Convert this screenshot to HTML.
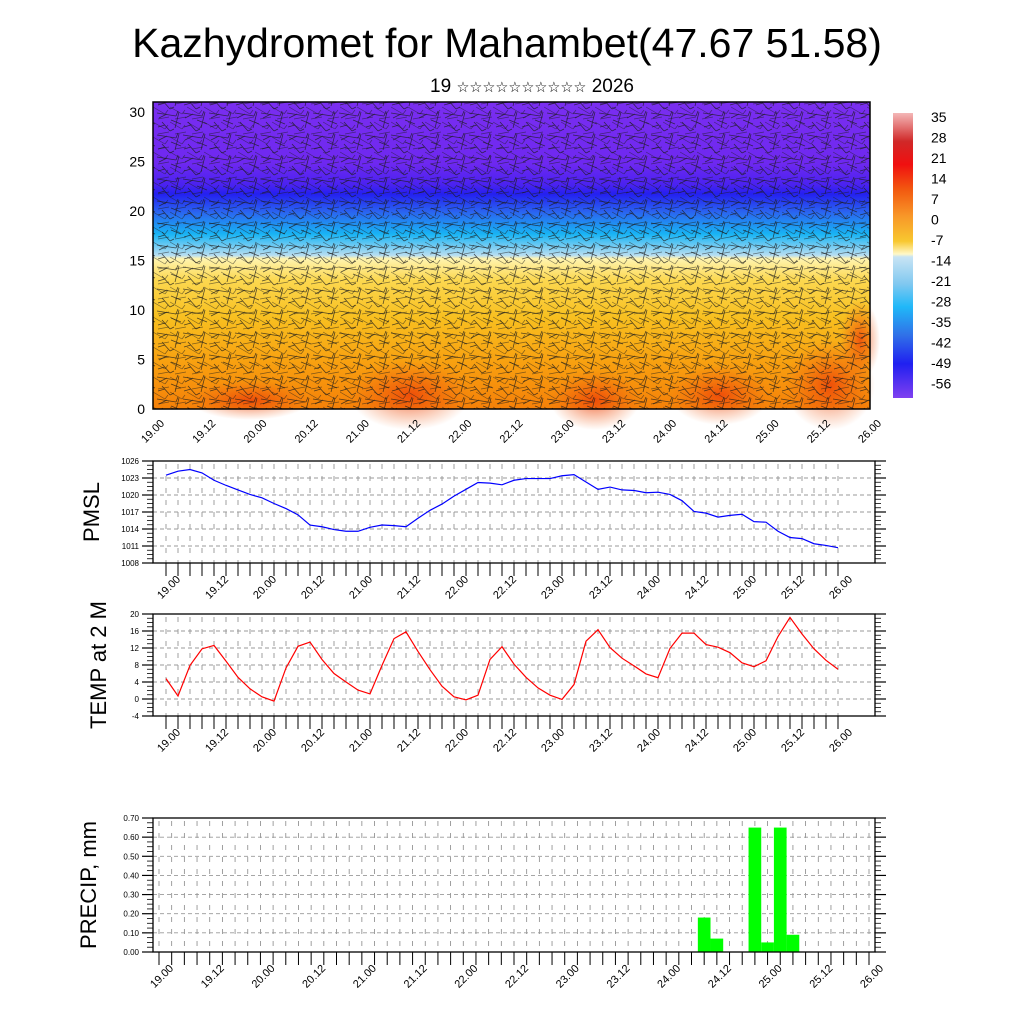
<!DOCTYPE html>
<html><head><meta charset="utf-8"><style>
html,body{margin:0;padding:0;background:#fff;width:1024px;height:1024px;overflow:hidden}
svg{display:block;font-family:"Liberation Sans","DejaVu Sans",sans-serif}
</style></head><body>
<svg id="c" width="1024" height="1024" viewBox="0 0 1024 1024">
<defs>
<linearGradient id="vgrad" x1="0" y1="0" x2="0" y2="1">
<stop offset="0" stop-color="#7a2ef0"/><stop offset="0.2" stop-color="#6e28f0"/>
<stop offset="0.27" stop-color="#4a22f0"/><stop offset="0.3" stop-color="#2420f0"/>
<stop offset="0.36" stop-color="#2a66f0"/><stop offset="0.43" stop-color="#18b4f4"/>
<stop offset="0.5" stop-color="#b8def2"/><stop offset="0.51" stop-color="#fff4b0"/>
<stop offset="0.58" stop-color="#fcd850"/><stop offset="0.7" stop-color="#f8c020"/>
<stop offset="0.85" stop-color="#f8a010"/><stop offset="1" stop-color="#f58008"/>
</linearGradient>
<linearGradient id="cbgrad" x1="0" y1="0" x2="0" y2="1">
<stop offset="0" stop-color="#f4b8b8"/><stop offset="0.1" stop-color="#d02828"/>
<stop offset="0.18" stop-color="#f01010"/><stop offset="0.27" stop-color="#f25a10"/>
<stop offset="0.36" stop-color="#f89628"/><stop offset="0.45" stop-color="#f8c830"/>
<stop offset="0.495" stop-color="#fff8c8"/><stop offset="0.505" stop-color="#c8e4f4"/>
<stop offset="0.6" stop-color="#80c8f0"/><stop offset="0.68" stop-color="#20b8f8"/>
<stop offset="0.78" stop-color="#3070e8"/><stop offset="0.88" stop-color="#2020f0"/>
<stop offset="1" stop-color="#8040f0"/>
</linearGradient>
<radialGradient id="hot"><stop offset="0" stop-color="#ec3a08" stop-opacity="0.75"/><stop offset="1" stop-color="#f06010" stop-opacity="0"/></radialGradient>
<pattern id="barbs" width="26" height="22" patternUnits="userSpaceOnUse">
<g stroke="#1a1a1a" stroke-width="0.8" opacity="0.75">
<line x1="1" y1="3" x2="20" y2="6"/><line x1="20" y1="6" x2="22" y2="1"/>
<line x1="6" y1="12" x2="14" y2="21"/><line x1="14" y1="21" x2="18" y2="19"/>
<line x1="15" y1="10" x2="25" y2="14"/><line x1="2" y1="17" x2="9" y2="15"/>
<line x1="23" y1="2" x2="19" y2="18"/><line x1="3" y1="8" x2="11" y2="4"/>
</g></pattern>
<pattern id="barbs2" width="17" height="15" patternUnits="userSpaceOnUse">
<g stroke="#1a1a1a" stroke-width="0.7" opacity="0.55">
<line x1="0" y1="2" x2="12" y2="9"/><line x1="12" y1="9" x2="15" y2="5"/>
<line x1="5" y1="14" x2="16" y2="12"/>
</g></pattern>
</defs>
</svg>
<script>
// ---- data ----
const pmslVals=[1023.5,1024.2,1024.5,1023.9,1022.6,1021.7,1020.9,1020.1,1019.5,1018.5,1017.6,1016.5,1014.7,1014.4,1013.9,1013.6,1013.6,1014.3,1014.7,1014.6,1014.4,1015.9,1017.3,1018.4,1019.8,1021.0,1022.2,1022.1,1021.8,1022.6,1022.9,1022.9,1022.9,1023.4,1023.6,1022.3,1021.0,1021.4,1020.9,1020.8,1020.4,1020.5,1020.1,1019.0,1017.1,1016.8,1016.1,1016.4,1016.6,1015.3,1015.2,1013.6,1012.5,1012.3,1011.4,1011.1,1010.7];
const tempVals=[4.8,0.7,7.9,11.8,12.6,8.9,5.1,2.4,0.5,-0.5,7.3,12.4,13.4,9.3,6.0,4.0,2.1,1.2,7.9,14.2,15.8,11.2,6.9,3.0,0.5,-0.2,0.9,9.3,12.3,8.2,5.1,2.6,0.9,-0.1,3.4,13.6,16.3,12.1,9.6,7.8,5.9,5.0,11.9,15.5,15.5,12.8,12.2,10.9,8.5,7.6,9.0,14.7,19.2,15.3,11.8,9.1,7.0];
const precipVals=[0,0,0,0,0,0,0,0,0,0,0,0,0,0,0,0,0,0,0,0,0,0,0,0,0,0,0,0,0,0,0,0,0,0,0,0,0,0,0,0,0,0,0,0.18,0.07,0,0,0.65,0.05,0.65,0.09,0,0,0,0,0,0];
const xLabels=["19.00","19.12","20.00","20.12","21.00","21.12","22.00","22.12","23.00","23.12","24.00","24.12","25.00","25.12","26.00"];
const pmslTicks=[1008,1011,1014,1017,1020,1023,1026];
const tempTicks=[-4,0,4,8,12,16,20];
const precipTicks=[0,0.1,0.2,0.3,0.4,0.5,0.6,0.7];
const mainYTicks=[0,5,10,15,20,25,30];
const cbLabels=["35","28","21","14","7","0","-7","-14","-21","-28","-35","-42","-49","-56"];

const NS="http://www.w3.org/2000/svg";
const svg=document.getElementById('c');
function el(tag,attrs,parent,txt){const e=document.createElementNS(NS,tag);for(const k in attrs)e.setAttribute(k,attrs[k]);if(txt!==undefined)e.textContent=txt;(parent||svg).appendChild(e);return e;}

// titles
let t=el('text',{x:507,y:57,'font-size':41,'text-anchor':'middle',fill:'#000'},svg,'Kazhydromet for Mahambet(47.67 51.58)');


t=el('text',{x:532,y:92,'font-size':19,'text-anchor':'middle',fill:'#000'},svg);


el('tspan',{},t,'19 ');
el('tspan',{'font-size':14.5},t,'☆☆☆☆☆☆☆☆☆☆');
el('tspan',{},t,' 2026');

function rotLabels(g,x0,x1,y){
  xLabels.forEach((s,i)=>{const x=x0+(x1-x0)*i/(xLabels.length-1)+15;
    const tx=el('text',{x:x,y:y,'font-size':11,'text-anchor':'end',transform:`rotate(-45 ${x} ${y})`},g,s);
    
    });
}

// ---- main cross-section panel ----
{
const L=153,R=870,T=102,B=409;
const g=el('g',{});


el('rect',{x:L,y:T,width:R-L,height:B-T,fill:'url(#vgrad)'},g);
[[410,395,60,35],[595,400,45,30],[720,395,50,30],[830,385,45,45],[250,400,60,20],[860,340,20,40]].forEach(h=>el('ellipse',{cx:h[0],cy:h[1],rx:h[2],ry:h[3],fill:'url(#hot)'},g));
el('rect',{x:L,y:T,width:R-L,height:B-T,fill:'url(#barbs)'},g);
el('rect',{x:L,y:T,width:R-L,height:B-T,fill:'url(#barbs2)'},g);
el('rect',{x:L,y:T,width:R-L,height:B-T,fill:'none',stroke:'#000','stroke-width':1.5},g);
const yScale=v=>B-(v/30)*(B-112);
mainYTicks.forEach(v=>{const y=yScale(v);
  const tx=el('text',{x:145,y:y+5,'font-size':14,'text-anchor':'end'},g,String(v));
  
  });
rotLabels(g,L-3,R-3,424);
// colorbar
const cb=el('g',{});


el('rect',{x:893,y:113,width:20,height:285,fill:'url(#cbgrad)'},cb);
cbLabels.forEach((s,i)=>{const tx=el('text',{x:931,y:122+i*20.5,'font-size':14},cb,s);
  
  });
}

// ---- line/bar panels ----
function panel(o){
  const g=el('g',{});
  
  
  const {L,R,T,B,x0,x1,ticks,vals}=o;
  const ymin=ticks[0],ymax=ticks[ticks.length-1];
  const ys=v=>B-(v-ymin)/(ymax-ymin)*(B-T);
  const xs=i=>x0+(x1-x0)*i/(vals.length-1);
  for(let i=0;i<vals.length;i++){el('line',{x1:xs(i),y1:T+3,x2:xs(i),y2:B,stroke:'#888','stroke-width':0.8,'stroke-dasharray':'5 7'},g);}
  ticks.forEach((v,k)=>{const y=ys(v);
    if(k>0&&k<ticks.length-1)el('line',{x1:L,y1:y,x2:R,y2:y,stroke:'#999','stroke-width':0.9,'stroke-dasharray':'4 3'},g);
    el('line',{x1:L-11,y1:y,x2:L,y2:y,stroke:'#000','stroke-width':1.2},g);
    el('line',{x1:R,y1:y,x2:R+11,y2:y,stroke:'#000','stroke-width':1.2},g);
    const tx=el('text',{x:L-14,y:y+3,'font-size':8,'text-anchor':'end'},g,o.fmt(v));
    
    });
  for(let k=0;k<ticks.length-1;k++)for(let m=1;m<4;m++){const y=ys(ticks[k]+(ticks[k+1]-ticks[k])*m/4);
    el('line',{x1:L-6,y1:y,x2:L,y2:y,stroke:'#000','stroke-width':0.8},g);el('line',{x1:R,y1:y,x2:R+6,y2:y,stroke:'#000','stroke-width':0.8},g);}
  for(let i=0;i<vals.length;i++)el('line',{x1:xs(i),y1:B,x2:xs(i),y2:B+13,stroke:'#000','stroke-width':1},g);
  if(o.bars){
    const w=(x1-x0)/(vals.length-1);
    vals.forEach((v,i)=>{if(v>0){const r=el('rect',{x:xs(i)-w/2,y:ys(v),width:w,height:B-ys(v),fill:'#00ff00'},g);
      
      }});
  } else {
    const p=el('polyline',{points:vals.map((v,i)=>xs(i)+','+ys(v)).join(' '),fill:'none',stroke:o.color,'stroke-width':1.2},g);
    
    
  }
  el('rect',{x:L,y:T,width:R-L,height:B-T,fill:'none',stroke:'#000','stroke-width':1.3},g);
  rotLabels(g,x0,x1,B+17);
  const tt=el('text',{x:o.tx,y:(T+B)/2,'font-size':22,'text-anchor':'middle',transform:`rotate(-90 ${o.tx} ${(T+B)/2})`},g,o.title);
  
  
}
panel({name:'pmsl-panel',L:153,R:875,T:461,B:563,x0:166,x1:838,ticks:pmslTicks,vals:pmslVals,color:'#0000ff',fmt:v=>String(v),title:'PMSL',tx:99});
panel({name:'temp-panel',L:153,R:875,T:614,B:716,x0:166,x1:838,ticks:tempTicks,vals:tempVals,color:'#ff0000',fmt:v=>String(v),title:'TEMP at 2 M',tx:106});
panel({name:'precip-panel',L:153,R:875,T:818,B:952,x0:159,x1:869,ticks:precipTicks,vals:precipVals,bars:true,fmt:v=>v.toFixed(2),title:'PRECIP, mm',tx:96});
</script>
</body></html>
